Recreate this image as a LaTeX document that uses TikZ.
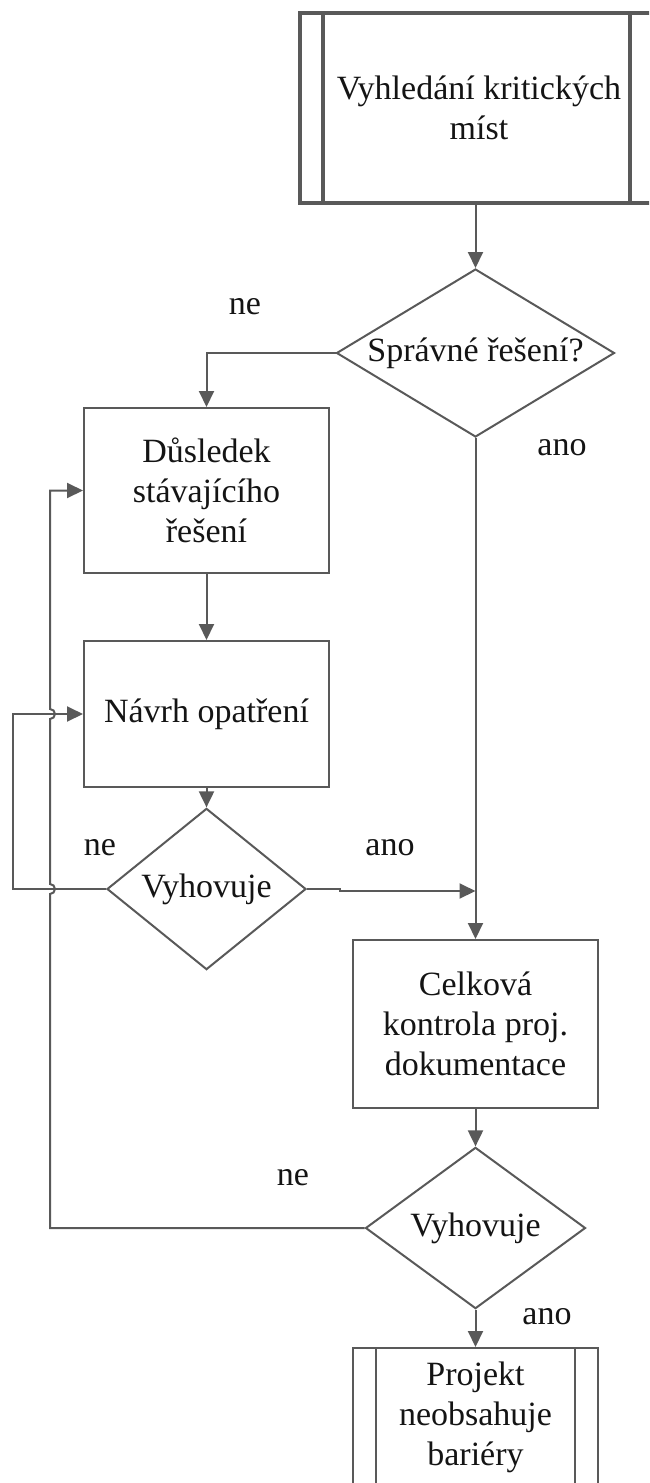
\documentclass[tikz,border=0pt]{standalone}
\usepackage{fontspec}
\setmainfont{Liberation Serif}
\usetikzlibrary{shapes.geometric,arrows.meta}
\definecolor{linegray}{RGB}{89,89,89}
\definecolor{textblack}{RGB}{20,20,20}

\begin{document}
\begin{tikzpicture}[x=1pt,y=-1pt,
    font=\fontsize{34}{40}\selectfont,
    every node/.style={text=textblack},
    stepbox/.style={draw=linegray,line width=2pt,align=center,minimum width=245pt,inner sep=0pt},
    decision/.style={diamond,draw=linegray,line width=2pt,inner sep=0pt,align=center},
    flow/.style={draw=linegray,line width=2pt,-{Triangle[length=16pt,width=15pt]}}]

  % rozmery obrazku
  \useasboundingbox (0,0) rectangle (649,1483);
  \clip (0,0) rectangle (649,1483);

  % uzly
  \node[stepbox,line width=4pt,minimum width=358pt,minimum height=190pt] (search) at (479,108) {Vyhledání kritických\\míst};
  \draw[linegray,line width=3.5pt] ([xshift=25pt]search.north west) -- ([xshift=25pt]search.south west);
  \draw[linegray,line width=3.5pt] ([xshift=-30pt]search.north east) -- ([xshift=-30pt]search.south east);

  \node[decision,minimum width=278pt,minimum height=168pt,shape aspect=1.65] (correct) at (475.5,353) {Správné řešení?};
  \node[stepbox,minimum height=165pt] (effect) at (206.5,490.5) {Důsledek\\stávajícího\\řešení};
  \node[stepbox,minimum height=146pt] (measure) at (206.5,714) {Návrh opatření};
  \node[decision,minimum width=199pt,minimum height=122pt] (fitsa) at (206.5,889) {Vyhovuje};
  \node[stepbox,minimum height=168pt] (check) at (475.5,1024) {Celková\\kontrola proj.\\dokumentace};
  \node[decision,minimum width=220pt,minimum height=132pt] (fitsb) at (475.5,1228) {Vyhovuje};
  \node[stepbox,minimum height=138pt] (result) at (475.5,1417) {Projekt\\neobsahuje\\bariéry};
  \draw[linegray,line width=2pt] ([xshift=24pt]result.north west) -- ([xshift=24pt]result.south west);
  \draw[linegray,line width=2pt] ([xshift=-24pt]result.north east) -- ([xshift=-24pt]result.south east);

  % popisky
  \node (noa) at (245,307) {ne};
  \node (yesa) at (562,448) {ano};
  \node (nob) at (100,848) {ne};
  \node (yesb) at (390,848) {ano};
  \node (noc) at (293,1178) {ne};
  \node (yesc) at (547,1317) {ano};

  % spojnice
  \draw[flow] (correct.north |- search.south) -- (correct.north);
  \draw[flow] (correct.west) -| (effect.north);
  \draw[flow] (correct.south) -- (check.north);
  \draw[flow] (effect) -- (measure);
  \draw[flow] (measure) -- (fitsa);
  \coordinate (join) at (475.5,891);
  \draw[flow] (fitsa.east) -- (340,889) -- (340,891) -- (join);
  \draw[flow] (fitsa.west) -- (13,889) |- (measure.west);
  \draw[flow] (check) -- (fitsb);
  \draw[flow] (fitsb) -- (result);
  \draw[flow] (fitsb.west) -- (50,1228) -- (50,894) arc[start angle=-90,end angle=90,radius=5pt]
    -- (50,719) arc[start angle=-90,end angle=90,radius=5pt] |- (effect.west);
\end{tikzpicture}
\end{document}
